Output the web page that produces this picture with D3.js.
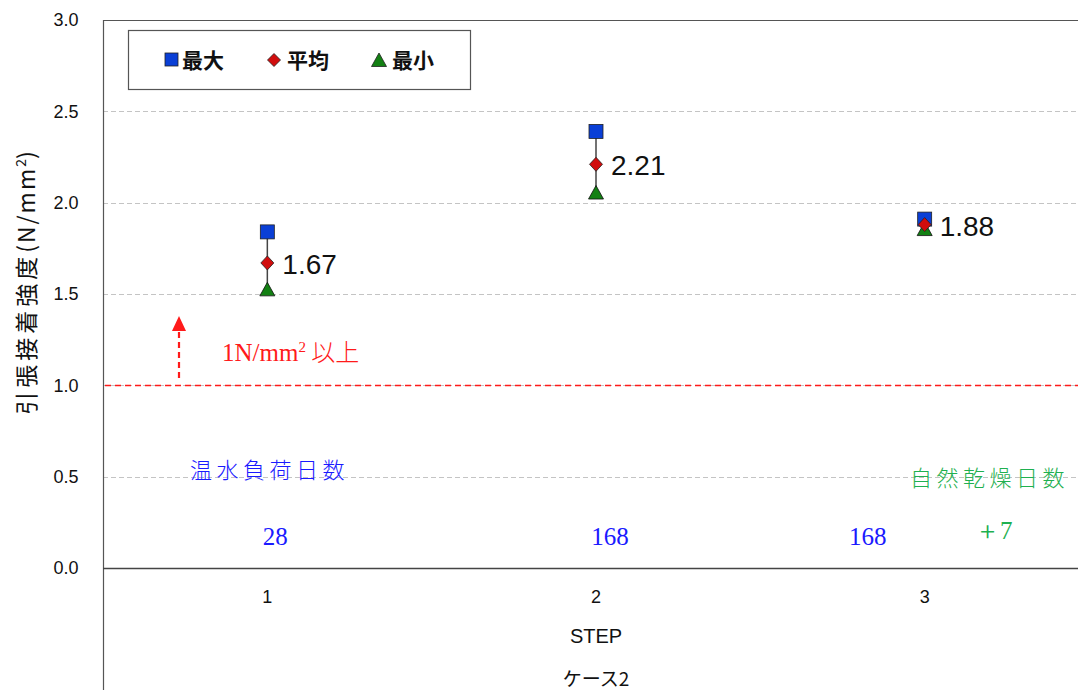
<!DOCTYPE html>
<html>
<head>
<meta charset="utf-8">
<script src="https://cdn.jsdelivr.net/npm/d3@7"></script>
<style>
  body { margin: 0; background: #fff; }
  svg { display: block; }
  .tick text { font-size: 18px; font-family: 'Liberation Sans', Arial, sans-serif; fill: #111; }
  .threshold { stroke: #ff1a1a; }
</style>
</head>
<body>
<svg id="chart" width="1078" height="690" font-family="'Liberation Sans', Arial, sans-serif"></svg>
<script>
// Tensile bond strength per STEP
const steps = ["1", "2", "3"];
const maxVals = [1.84, 2.39, 1.91];
const avgVals = [1.67, 2.21, 1.88];
const minVals = [1.52, 2.05, 1.85];
const yTicks = [0, 0.5, 1.0, 1.5, 2.0, 2.5, 3.0];
const curingDays = ["28", "168", "168"];
const threshold = 1.0;

const SERIF = "'Liberation Serif', 'Times New Roman', serif";
const CJK = "'Noto Sans CJK JP', sans-serif";

const svg = d3.select("#chart");
const plotLeft = 103, plotTop = 20, plotRight = 1089, plotBottom = 568;

const x = d3.scaleBand().domain(steps).range([plotLeft, plotRight]);
const y = d3.scaleLinear().domain([0, 3]).range([plotBottom, plotTop]);
const cx = s => x(s) + x.bandwidth() / 2;

// gridlines
svg.append("g").selectAll("line").data(yTicks.filter(t => t > 0 && t < 3)).join("line")
  .attr("x1", plotLeft).attr("x2", 1078)
  .attr("y1", d => Math.round(y(d)) + 0.5).attr("y2", d => Math.round(y(d)) + 0.5)
  .attr("stroke", "#c4c4c4").attr("stroke-dasharray", "5,3").attr("stroke-width", 1);

// top border
svg.append("line").attr("x1", plotLeft).attr("x2", 1078).attr("y1", plotTop + 0.5).attr("y2", plotTop + 0.5)
  .attr("stroke", "#555").attr("stroke-width", 1);

// threshold line at 1.0 N/mm2
svg.append("line").attr("class", "threshold").attr("x1", plotLeft + 2).attr("x2", 1078)
  .attr("y1", Math.round(y(threshold)) + 0.5).attr("y2", Math.round(y(threshold)) + 0.5)
  .attr("stroke-dasharray", "6,4").attr("stroke-width", 1.3);

// y axis
const yAxis = svg.append("g").attr("transform", `translate(${plotLeft + 0.5},0)`)
  .call(d3.axisLeft(y).tickValues(yTicks).tickFormat(d3.format(".1f")).tickSize(0).tickPadding(25));
yAxis.select(".domain").remove();
yAxis.attr("font-size", 18);
svg.append("line").attr("x1", plotLeft + 0.5).attr("x2", plotLeft + 0.5).attr("y1", plotTop).attr("y2", 690)
  .attr("stroke", "#555").attr("stroke-width", 1.2);

// x axis
const xAxis = svg.append("g").attr("transform", `translate(0,${plotBottom + 0.5})`)
  .call(d3.axisBottom(x).tickSize(0).tickPadding(22));
xAxis.select(".domain").remove();
xAxis.attr("font-size", 18);
svg.append("line").attr("x1", plotLeft).attr("x2", 1078).attr("y1", plotBottom + 0.5).attr("y2", plotBottom + 0.5)
  .attr("stroke", "#444").attr("stroke-width", 1.5);

svg.append("text").attr("x", cx("2")).attr("y", 643).attr("text-anchor", "middle")
  .attr("font-size", 20).attr("fill", "#111").text("STEP");
svg.append("text").attr("x", cx("2")).attr("y", 686).attr("text-anchor", "middle")
  .attr("font-size", 19).attr("fill", "#111")
  .attr("font-family", CJK).text("ケース2");

// y axis title
const yt = svg.append("text").attr("transform", `translate(35,${283}) rotate(-90)`)
  .attr("text-anchor", "middle").attr("font-size", 23).attr("fill", "#111")
  .attr("font-family", CJK);
yt.append("tspan").attr("letter-spacing", 4).text("引張接着強度");
yt.append("tspan").attr("letter-spacing", 2).text("(N/mm");
yt.append("tspan").attr("font-size", 14).attr("dy", -9).text("2");
yt.append("tspan").attr("dy", 9).text(")");

// range lines
svg.append("g").selectAll("line").data(steps).join("line")
  .attr("x1", d => cx(d)).attr("x2", d => cx(d))
  .attr("y1", (d, i) => y(maxVals[i])).attr("y2", (d, i) => y(minVals[i]))
  .attr("stroke", "#444").attr("stroke-width", 1.5);

const diamond = "M0,-7L6.5,0L0,7L-6.5,0Z";

// min markers (triangles)
svg.append("g").selectAll("path").data(steps).join("path")
  .attr("transform", (d, i) => `translate(${cx(d)},${y(minVals[i])})`)
  .attr("d", "M0,-8L7.5,5.5L-7.5,5.5Z")
  .attr("fill", "#138013").attr("stroke", "#111").attr("stroke-width", 0.8);

// max markers (squares)
svg.append("g").selectAll("rect").data(steps).join("rect")
  .attr("x", d => cx(d) - 7).attr("y", (d, i) => y(maxVals[i]) - 7)
  .attr("width", 14).attr("height", 14)
  .attr("fill", "#0a3fd6").attr("stroke", "#222").attr("stroke-width", 0.8);

// avg markers (diamonds)
svg.append("g").selectAll("path").data(steps).join("path")
  .attr("transform", (d, i) => `translate(${cx(d)},${y(avgVals[i])})`)
  .attr("d", diamond)
  .attr("fill", "#d10d0d").attr("stroke", "#222").attr("stroke-width", 0.8);

// average value labels
svg.append("g").selectAll("text").data(steps).join("text")
  .attr("x", d => cx(d) + 15).attr("y", (d, i) => y(avgVals[i]) + 11)
  .attr("font-size", 28).attr("fill", "#111")
  .text((d, i) => avgVals[i].toFixed(2));

// legend
const lg = svg.append("g");
lg.append("rect").attr("x", 128.5).attr("y", 30.5).attr("width", 342).attr("height", 59)
  .attr("fill", "#fff").attr("stroke", "#555").attr("stroke-width", 1.2);
const legendItems = [
  { label: "最大", x: 172 },
  { label: "平均", x: 277 },
  { label: "最小", x: 382 }
];
lg.append("rect").attr("x", 165).attr("y", 53).attr("width", 13).attr("height", 13)
  .attr("fill", "#0a3fd6").attr("stroke", "#222").attr("stroke-width", 0.8);
lg.append("path").attr("transform", "translate(274,60)").attr("d", "M0,-6.5L6.5,0L0,6.5L-6.5,0Z")
  .attr("fill", "#d10d0d").attr("stroke", "#222").attr("stroke-width", 0.8);
lg.append("path").attr("transform", "translate(379,61)").attr("d", "M0,-8L7.5,5.5L-7.5,5.5Z")
  .attr("fill", "#138013").attr("stroke", "#222").attr("stroke-width", 0.8);
lg.selectAll("text.l").data(legendItems).join("text").attr("class", "l")
  .attr("x", d => d.x + 10).attr("y", 68)
  .attr("font-size", 21).attr("font-weight", "bold").attr("fill", "#111")
  .attr("font-family", CJK)
  .text(d => d.label);

// threshold annotation
svg.append("line").attr("x1", 179).attr("x2", 179).attr("y1", 378).attr("y2", 330)
  .attr("stroke", "#ff1a1a").attr("stroke-width", 2.2).attr("stroke-dasharray", "6,4");
svg.append("path").attr("d", "M179,316L186,331L172,331Z").attr("fill", "#ff1a1a");
const th = svg.append("text").attr("x", 222).attr("y", 361)
  .attr("font-size", 25).attr("fill", "#ff1a1a")
  .attr("font-family", SERIF);
th.append("tspan").text("1N/mm");
th.append("tspan").attr("font-size", 15).attr("dy", -9).text("2");
th.append("tspan").attr("dy", 9).attr("font-family", CJK).attr("font-weight", 300)
  .attr("font-size", 24).text(" 以上");

// curing day annotations
const dayOffsets = [8, 14, -57];
svg.append("text").attr("x", 190).attr("y", 478).attr("font-size", 22).attr("fill", "#1a1aff")
  .attr("letter-spacing", 4.5)
  .attr("font-family", CJK).attr("font-weight", 300).text("温水負荷日数");
svg.append("g").selectAll("text").data(steps).join("text")
  .attr("x", (d, i) => cx(d) + dayOffsets[i]).attr("y", 545).attr("text-anchor", "middle")
  .attr("font-size", 25).attr("fill", "#1a1aff")
  .attr("font-family", SERIF)
  .text((d, i) => curingDays[i]);
svg.append("text").attr("x", 910).attr("y", 486).attr("font-size", 22).attr("fill", "#1fb050")
  .attr("letter-spacing", 4.5)
  .attr("font-family", CJK).attr("font-weight", 300).text("自然乾燥日数");
svg.append("text").attr("x", 975).attr("y", 539).attr("font-size", 25).attr("fill", "#1fb050")
  .attr("font-family", SERIF).text("＋7");
</script>
</body>
</html>
